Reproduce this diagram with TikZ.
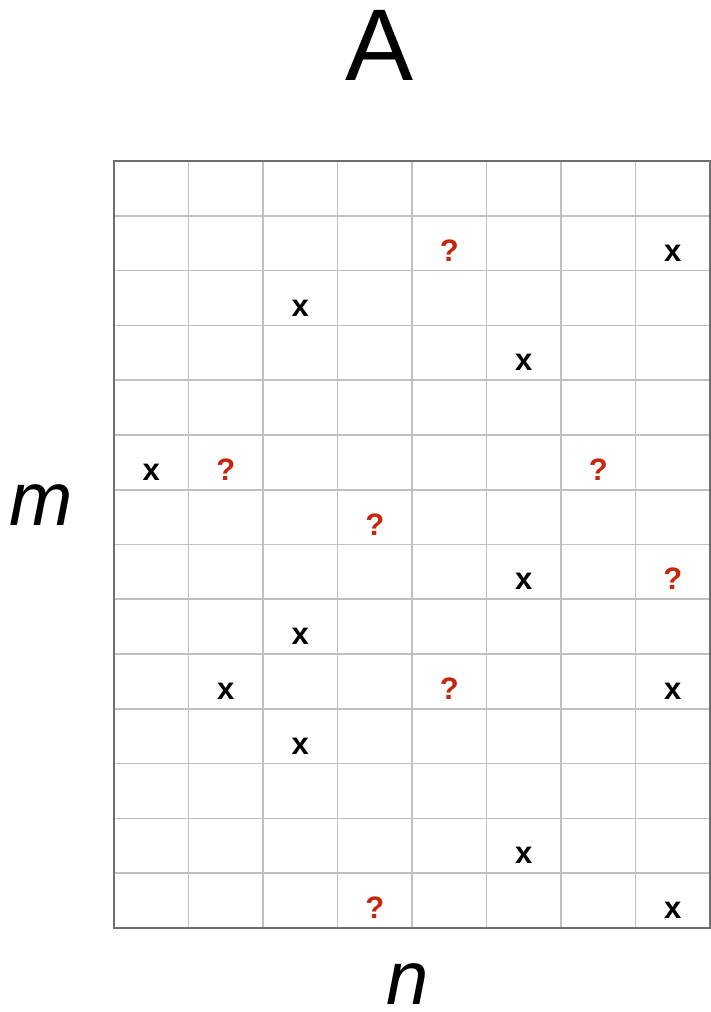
\documentclass[tikz,border=0pt]{standalone}
\usepackage{fontspec}
\setmainfont{Liberation Sans}
\newfontfamily\markfont{Liberation Sans Bold}
\definecolor{gridgray}{RGB}{192,192,192}
\definecolor{framegray}{RGB}{110,110,110}
\definecolor{qred}{RGB}{200,38,12}
\begin{document}
\begin{tikzpicture}[
  x=1pt,y=-1pt,
  cell/.style={draw=gridgray,line width=1.6pt},
  frame/.style={draw=framegray,line width=2.2pt},
  known/.style={font=\markfont\fontsize{31}{31}\selectfont,anchor=base,inner sep=0pt},
  unknown/.style={known,text=qred},
  axis/.style={font=\itshape\fontsize{76}{76}\selectfont,inner sep=0pt}
]
\useasboundingbox (0,0) rectangle (711,1012);
% matrix cells
\foreach \c in {1,...,7}
  \draw[cell] ({114+74.5*\c},161) -- ({114+74.5*\c},928);
\foreach \r in {1,...,13}
  \draw[cell] (114,{161+767/14*\r}) -- (710,{161+767/14*\r});
\draw[frame] (114,161) rectangle (710,928);

\node[font=\fontsize{102}{102}\selectfont,inner sep=0pt] (title) at (380,45) {A};
\node[axis] (rows) at (41,505) {m};
\node[axis] (cols) at (408,984) {n};

% observed entries
\node[known] (k1) at (672.75,261.2) {x};
\node[known] (k2) at (300.25,316.0) {x};
\node[known] (k3) at (523.75,370.8) {x};
\node[known] (k4) at (151.25,480.3) {x};
\node[known] (k5) at (523.75,589.9) {x};
\node[known] (k6) at (300.25,644.7) {x};
\node[known] (k7) at (225.75,699.5) {x};
\node[known] (k8) at (672.75,699.5) {x};
\node[known] (k9) at (300.25,754.3) {x};
\node[known] (k10) at (523.75,863.8) {x};
\node[known] (k11) at (672.75,918.6) {x};

% missing entries
\node[unknown] (u1) at (449.25,261.2) {?};
\node[unknown] (u2) at (225.75,480.3) {?};
\node[unknown] (u3) at (598.25,480.3) {?};
\node[unknown] (u4) at (374.75,535.1) {?};
\node[unknown] (u5) at (672.75,589.9) {?};
\node[unknown] (u6) at (449.25,699.5) {?};
\node[unknown] (u7) at (374.75,918.6) {?};
\end{tikzpicture}
\end{document}
